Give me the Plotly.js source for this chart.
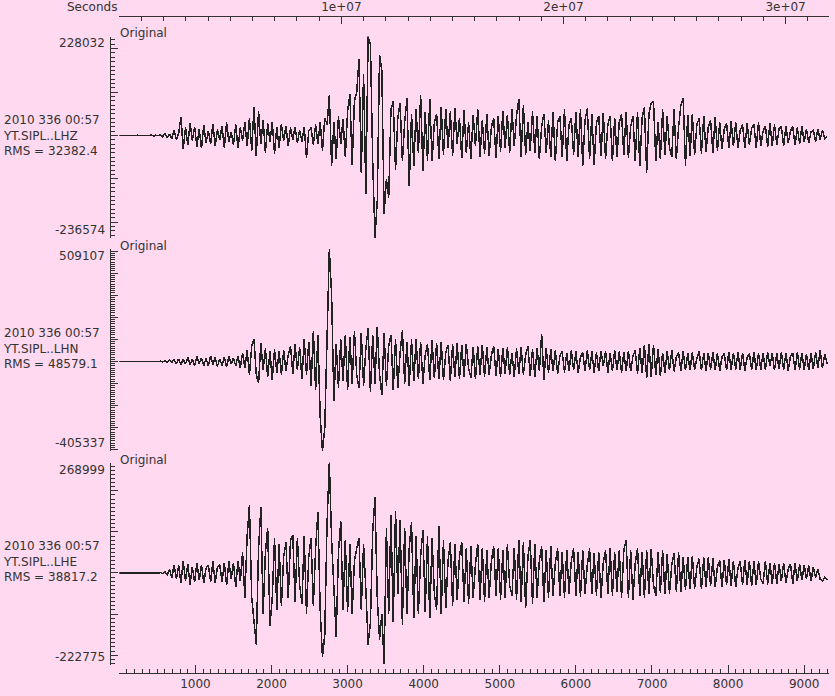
<!DOCTYPE html>
<html><head><meta charset="utf-8">
<script src="https://cdn.plot.ly/plotly-3.0.1.min.js"></script>
<style>html,body{margin:0;padding:0;background:#ffd9f0;}
.scatterlayer .js-line{shape-rendering:crispEdges;}</style>
</head><body><div id="chart" style="width:835px;height:696px;"></div>
<script>
// ---- data (amplitudes in thousands of counts, one sample every 30 s from t = 0) ----
const sampleStart = 0;
const sampleStep = 30;
const stationDate = '2010 336 00:57';
const channels = ['YT.SIPL..LHZ', 'YT.SIPL..LHN', 'YT.SIPL..LHE'];
const rmsValues = ['32382.4', '48579.1', '38817.2'];
const ampMax = [228032, 509107, 268999];
const ampMin = [-236574, -405337, -222775];
const panelTag = 'Original';
const timeRange = [0, 9330];
const timeTicks = [1000, 2000, 3000, 4000, 5000, 6000, 7000, 8000, 9000];
const topRange = [0, 3.197e7];
const topTicks = [1e7, 2e7, 3e7];
const topTickText = ['1e+07', '2e+07', '3e+07'];

const lhz = [
  0.3, -0.2, 0.4, -0.3, 0.2, -0.4, 0.3, -0.2, 0.4, -0.3,
  0.5, -0.4, 0.3, -0.5, 1.5, -2, 0.5, -1, 2, -3,
  4, -6, 3, -8, 12, -10, 5, 43, -32, 18,
  -22, 28, -12, 20, -26, 15, -30, 24, -18, 10,
  -20, 27, -25, 14, -10, 22, -28, 30, -15, 8,
  -22, 25, -30, 18, -12, 30, -25, 40, -35, 66,
  -48, 55, -20, 35, -40, 28, -15, 30, -43, 20,
  -30, 26, -12, 22, -25, 18, -10, 20, -18, 12,
  -15, 20, -53, 10, 18, -22, 25, -20, 30, -35,
  40, 25, 92, -71, 30, -55, 44, -20, 38, -50,
  55, 96, -68, 80, 100, 176, -87, 142, -135, 228,
  210, -60, -236, -150, 185, 150, -181, -100, -144, 60,
  78, -80, 40, 75, -60, 30, 85, -117, 50, -70,
  60, -40, 92, -82, 55, -60, 85, -60, 30, 50,
  -55, 65, -45, 60, -30, 55, -48, 62, -20, 40,
  -52, 58, -40, 30, -55, 48, -25, 60, -50, 35,
  -42, 50, -48, 20, 40, -52, 45, -38, 55, -30,
  48, -40, 60, -25, 45, 84, -50, 70, -45, 30,
  -35, 55, -40, 45, -55, 20, 50, -40, 35, -50,
  55, -60, 30, 45, -50, 60, -58, 25, 40, -45,
  55, -50, 60, -70, 35, 62, -55, 50, -68, 30,
  45, -48, 52, -55, 25, 45, -60, 40, -50, 30,
  48, -45, 55, -52, 20, 45, -60, 55, -70, 40,
  65, -86, 50, 75, 78, -60, 30, -55, 60, -45,
  45, -30, -50, 60, -55, 20, 70, 85, -70, 48,
  -48, 50, -45, 25, 40, -42, 45, -38, 20, 35,
  -40, 42, -35, 30, -32, 15, 28, -30, 32, -25,
  30, -28, 12, 25, -30, 28, -22, 18, 25, -28,
  30, -25, 10, 22, -26, 28, -24, 25, -22, 15,
  20, -24, 22, -18, 10, 20, -22, 18, -20, 22,
  -16, 15, -18, 8, 12, -14, 15, -10, 12, -8,
  -3
];
const lhn = [
  0.5, -0.5, 0.4, -0.4, 0.5, -0.5, 0.4, -0.4, 0.5, -0.5,
  0.4, -0.4, 0.5, -0.5, 0.6, -0.6, 1, -1, 1.5, -1.5,
  2, -3, 5, -4, 8, -10, 12, -15, 10, -12,
  18, -15, 12, -20, 22, -10, 16, -18, 14, -20,
  25, -15, 18, -22, 12, -18, 20, -25, 22, -12,
  15, -20, 25, -30, 40, -28, 50, -60, 70, 100,
  -60, -99, 85, -40, 60, -70, 45, -85, 55, -50,
  45, -60, 50, -45, 30, 70, -55, 80, -40, 65,
  -80, 100, -60, 90, -110, 140, -130, 120, -250, -405,
  -300, 150, 509, 300, -180, 80, -120, 100, -90, 120,
  -130, 110, -100, 140, -60, -120, 130, -110, 60, 150,
  -140, 120, -100, 157, -60, -150, 130, -110, 70, 120,
  -130, 100, -120, 40, 140, -100, 90, -110, 100, -90,
  100, -80, 90, -100, 30, 80, -85, 95, -75, 85,
  -80, 90, -85, 40, 75, -90, 80, -70, 85, -80,
  75, -70, 80, -30, -75, 65, -80, 70, -60, 75,
  -70, 65, -60, 30, 70, -65, 55, -70, 60, -55,
  65, -60, 40, -70, 60, -55, 65, -60, 30, 70,
  -65, 55, -70, 60, -45, 125, -85, 60, -50, 55,
  -45, 50, -55, 25, 45, -50, 40, -45, 50, -40,
  45, -50, 20, 40, -45, 50, -40, 45, -50, 42,
  -45, 48, -20, 45, -50, 40, -45, 50, -40, 45,
  -50, 42, -45, 48, -45, 25, 50, -55, 60, -50,
  75, -75, 80, -70, 75, -60, 55, -65, 40, -50,
  45, -40, 50, -45, 20, 40, -42, 45, -40, 38,
  -40, 42, -38, 15, 45, -40, 38, -42, 40, -36,
  42, -40, 38, -42, 20, 36, -40, 44, -38, 40,
  -36, 42, -38, 40, -42, 18, 36, -38, 42, -40,
  38, -36, 40, -38, 42, -20, 36, -40, 38, -35,
  42, -38, 40, -42, 25, 38, -40, 42, -36, 40,
  -38, 35, -40, 38, -35, 42, -30, 50, -30, 35,
  -10
];
const lhe = [
  0.3, -0.2, 0.4, -0.3, 0.2, -0.4, 0.3, -0.2, 0.4, -0.3,
  0.5, -0.4, 0.3, -0.5, 0.6, -0.5, 0.4, -0.6, 1, -1.5,
  3, -4, 8, -12, 20, -15, 18, -25, 30, -20,
  22, -28, 15, -22, 25, -18, 20, -25, 12, 20,
  -22, 28, -24, 15, 20, -22, 25, -30, 28, -15,
  25, -35, 30, -20, 50, -60, 90, 165, -60, -120,
  -174, 60, 160, -100, 50, 110, -130, -60, 85, -90,
  70, -80, 40, 75, -60, 80, 92, -70, 85, -30,
  -75, 90, -100, 40, 85, -80, 60, 148, -90, -205,
  -150, 120, 269, 80, -60, -155, 50, 126, -90, 80,
  -95, 70, -100, 30, 60, 85, -90, 70, -40, -174,
  -120, 100, 184, -60, -162, -100, -222, 110, -100, 140,
  -120, 152, -50, 130, -126, 110, -100, 60, 125, -110,
  90, -100, 40, 105, -95, 90, -110, 85, -50, -90,
  115, -100, 80, -85, 30, 75, -80, 70, -65, 40,
  75, -70, 60, -75, 65, -60, 20, 70, -65, 60,
  -70, 55, -60, 30, 65, -55, 60, -65, 55, -60,
  70, -30, -55, 60, -65, 80, -70, 75, -85, 40,
  80, -75, 70, -60, 30, 65, -70, 55, -60, 65,
  -55, 25, 60, -55, 50, -60, 55, -50, 30, 60,
  -55, 50, -58, 55, -50, 20, 60, -52, 48, -55,
  50, -60, 25, 55, -50, 60, -55, 50, -45, 55,
  -60, 55, 80, -60, 55, -65, 25, 60, -55, 50,
  -60, 55, -50, 58, -30, -55, 50, -48, 55, -52,
  45, -50, 20, 48, -45, 50, -45, 40, -42, 38,
  -40, 42, -38, 15, 35, -40, 38, -35, 38, -32,
  36, -34, 15, 30, -35, 32, -30, 34, -32, 30,
  -34, 12, 28, -30, 32, -28, 30, -32, 28, -30,
  28, -15, -26, 30, -28, 25, -27, 24, -26, 22,
  -20, 25, -24, 10, 22, -26, 24, -20, 22, -18,
  20, -15, 18, -20, 15, -12, 10, -15, -20, -10,
  -17
];
const series = [lhz, lhn, lhe];

// ---- styling / layout ----
const W = 835, H = 696;
const FONT = 'DejaVu Sans';
const INK = '#333333';
const LINE = '#222222';
const BG = '#ffd9f0';
const px2x = p => p / W;
const py2y = p => 1 - p / H;
const plotLeft = 119.3, plotRight = 829.3;
const panelsPx = [[36.5, 238], [249, 451], [462.5, 664.5]];

const traces = series.map((s, k) => ({
  type: 'scatter', mode: 'lines', y: s, x0: sampleStart, dx: sampleStep,
  xaxis: 'x', yaxis: k === 0 ? 'y' : 'y' + (k + 1),
  line: { color: LINE, width: 1.5 }, hoverinfo: 'skip', showlegend: false
}));
// helper (no visible mark) so the top seconds axis is drawn
traces.push({ type: 'scatter', mode: 'lines', x: topRange, y: [null, null],
  xaxis: 'x2', yaxis: 'y', hoverinfo: 'skip', showlegend: false });

const layout = {
  width: W, height: H,
  margin: { l: 0, r: 0, t: 0, b: 0 },
  paper_bgcolor: BG, plot_bgcolor: BG,
  font: { family: FONT, size: 12, color: INK },
  showlegend: false,
  xaxis: {
    domain: [px2x(plotLeft), px2x(plotRight)], range: timeRange,
    anchor: 'free', position: py2y(673), side: 'bottom',
    showline: true, linecolor: INK, linewidth: 1, mirror: false,
    showgrid: false, zeroline: false,
    ticks: 'inside', ticklen: 8, tickcolor: INK, tickwidth: 1,
    tickmode: 'array',
    tickvals: [timeRange[0]].concat(timeTicks, [timeRange[1]]),
    ticktext: [''].concat(timeTicks.map(String), ['']),
    tickfont: { family: FONT, size: 12, color: INK },
    minor: { tickmode: 'linear', tick0: 0, dtick: 100, ticks: 'inside', ticklen: 4, tickcolor: INK, tickwidth: 1, showgrid: false }
  },
  xaxis2: {
    overlaying: 'x', range: topRange,
    anchor: 'free', position: py2y(16), side: 'top',
    showline: true, linecolor: INK, linewidth: 1,
    showgrid: false, zeroline: false,
    ticks: 'inside', ticklen: 7, tickcolor: INK, tickwidth: 1,
    tickmode: 'array',
    tickvals: [topRange[0]].concat(topTicks, [topRange[1]]),
    ticktext: [''].concat(topTickText, ['']),
    tickfont: { family: FONT, size: 12, color: INK },
    minor: { tickmode: 'linear', tick0: 0, dtick: 1e6, ticks: 'inside', ticklen: 4, tickcolor: INK, tickwidth: 1, showgrid: false }
  },
  annotations: [{
    xref: 'paper', yref: 'paper', x: px2x(119), y: py2y(7),
    xanchor: 'right', yanchor: 'middle', text: 'Seconds', showarrow: false,
    font: { family: FONT, size: 12, color: INK }
  }]
};

series.forEach((s, k) => {
  const name = k === 0 ? 'yaxis' : 'yaxis' + (k + 1);
  const ref = k === 0 ? 'y' : 'y' + (k + 1);
  const lo = ampMin[k] / 1000, hi = ampMax[k] / 1000;
  const majors = [lo];
  for (let v = Math.ceil(lo / 100) * 100; v <= hi; v += 100) majors.push(v);
  majors.push(hi);
  const [top, bot] = panelsPx[k];
  layout[name] = {
    domain: [py2y(bot), py2y(top)], range: [lo, hi],
    anchor: 'free', position: px2x(110), side: 'left',
    showline: true, linecolor: INK, linewidth: 1,
    showgrid: false, zeroline: false,
    ticks: 'inside', ticklen: 7, tickcolor: INK, tickwidth: 1,
    tickmode: 'array', tickvals: majors, showticklabels: false,
    minor: { tickmode: 'linear', tick0: 0, dtick: 10, ticks: 'inside', ticklen: 4, tickcolor: INK, tickwidth: 1, showgrid: false }
  };
  layout.annotations.push(
    { xref: 'paper', yref: ref, x: px2x(107), y: hi, xanchor: 'right', yanchor: 'top', yshift: 2,
      text: String(ampMax[k]), showarrow: false, font: { family: FONT, size: 12, color: INK } },
    { xref: 'paper', yref: ref, x: px2x(107), y: lo, xanchor: 'right', yanchor: 'bottom', yshift: -1,
      text: String(ampMin[k]), showarrow: false, font: { family: FONT, size: 12, color: INK } },
    { xref: 'paper', yref: ref, x: px2x(118), y: hi, xanchor: 'left', yanchor: 'middle', yshift: 3,
      text: panelTag, showarrow: false, font: { family: FONT, size: 12, color: INK } },
    { xref: 'paper', yref: ref + ' domain', x: 0, y: 0.5, xanchor: 'left', yanchor: 'middle', xshift: 1, yshift: 2,
      align: 'left', text: stationDate + '<br>' + channels[k] + '<br>RMS = ' + rmsValues[k],
      showarrow: false, font: { family: FONT, size: 12, color: INK } }
  );
});

Plotly.newPlot('chart', traces, layout, { staticPlot: true, displayModeBar: false });
</script></body></html>
